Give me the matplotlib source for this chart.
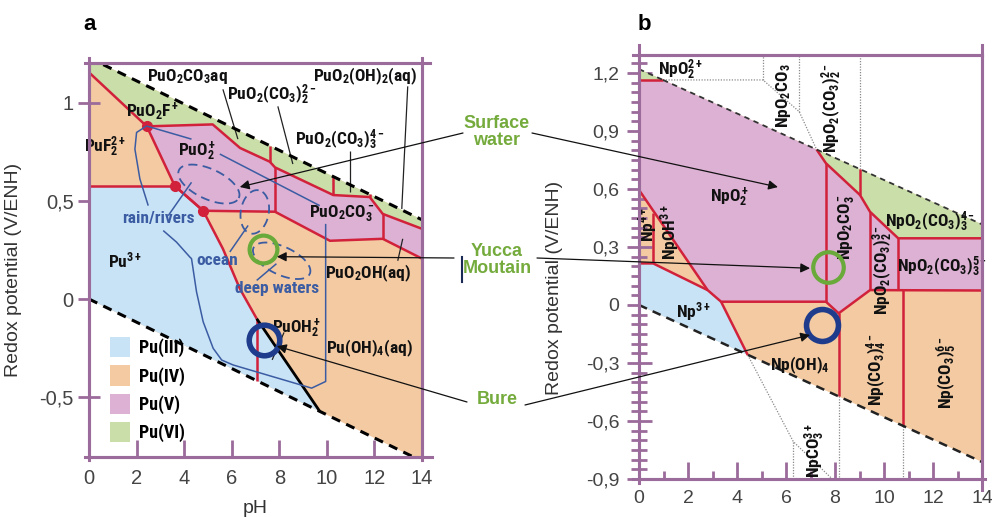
import numpy as np
import matplotlib
matplotlib.use('Agg')
import matplotlib.pyplot as plt
import matplotlib.font_manager as fm
from matplotlib.patches import Patch, ConnectionPatch
from matplotlib.lines import Line2D
from matplotlib.ticker import FuncFormatter, MultipleLocator


def weight_of(f):
    w = f.weight
    return w if isinstance(w, (int, float)) else fm.weight_dict.get(w, 400)


def pick_label_font():
    # police grasse et étroite pour les noms d'espèces
    fonts = fm.fontManager.ttflist
    for nm, fs in [('Liberation Sans Narrow', 12.5), ('Roboto Condensed', 12.5),
                   ('Open Sans Condensed', 12), ('Roboto', 11), ('Liberation Sans', 10.5)]:
        if any(f.name == nm and weight_of(f) >= 600 and f.style == 'normal' for f in fonts):
            return nm, fs
    return 'DejaVu Sans', 9.5


LBL, FS = pick_label_font()
COND = fm.FontProperties(family=LBL, weight='bold')
pat = LBL + ':bold'

avail = {f.name for f in fm.fontManager.ttflist}
SANS = 'Liberation Sans' if 'Liberation Sans' in avail else 'DejaVu Sans'
plt.rcParams['font.family'] = [SANS, 'DejaVu Sans']
plt.rcParams.update({
    'mathtext.fontset': 'custom',
    'mathtext.rm': pat,
    'mathtext.it': pat,
    'mathtext.bf': pat,
    'mathtext.sf': pat,
    'mathtext.default': 'rm',
})

# couleurs
C_III, C_IV, C_V, C_VI = '#c8e3f6', '#f3caa2', '#dcb1d3', '#c9dea9'
RED = '#d1213b'
FRAME = '#9b6b9b'
WBLUE = '#3b5ca3'
GTXT = '#74ab3c'
CGREEN = '#6aaa3a'
CBLUE = '#1f3c8c'

# ---------------- Pu (panneau a) ----------------
pu_water_up = [(0, 1.23), (14, 0.404)]
pu_water_low = [(0, 0.0), (14, -0.826)]
pu_v_top = [(2.43, 0.88), (5.2, 0.89), (6.35, 0.77), (7.6, 0.70), (7.82, 0.671),
            (10.27, 0.53), (11.8, 0.52), (12.35, 0.434), (14, 0.358)]
pu_v_bot = [(3.61, 0.576), (4.8, 0.45), (7.82, 0.445), (10.13, 0.297),
            (12.35, 0.307), (14, 0.206)]
pu_f2_edge = [(0, 1.155), (2.43, 0.88), (3.61, 0.576), (4.8, 0.45)]
pu_iii_top = [(0, 0.576), (3.61, 0.576)]
pu_iii_iv = [(4.8, 0.45), (5.63, 0.256), (6.34, 0.053), (7.05, -0.1)]
pu_oh_black = [(7.05, -0.1), (9.7, -0.572)]
pu_red_vert = [[(7.05, -0.1), (7.05, -0.417)],
               [(7.6, 0.70), (7.6, 0.78)],
               [(10.27, 0.53), (10.27, 0.625)],
               [(11.8, 0.52), (11.8, 0.535)],
               [(7.82, 0.671), (7.82, 0.445)],
               [(12.35, 0.434), (12.35, 0.307)]]
pu_dots = [(2.43, 0.88), (3.61, 0.576), (4.8, 0.45)]

# domaines des eaux naturelles
pu_nat = [[(2.42, 0.882), (2.0, 0.849), (1.93, 0.764), (2.14, 0.612), (2.49, 0.476)],
          [(3.12, 0.349), (3.68, 0.29), (4.24, 0.214), (4.31, 0.206), (4.52, 0.037),
           (4.8, -0.116), (5.22, -0.251), (5.58, -0.311), (6.06, -0.336),
           (9.36, -0.454), (9.95, -0.42), (9.95, 0.256), (9.95, 0.383)],
          [(2.42, 0.882), (4.31, 0.815)],
          [(5.5, 0.739), (9.7, 0.476)],
          [(4.31, 0.595), (3.33, 0.425)],
          [(6.69, 0.375), (5.92, 0.24)],
          [(7.88, 0.18), (7.05, 0.095)]]
# ellipses : centre (pH, E), demi-axes (px), angle
pu_ell = [((5.04, 0.586), 33, 15, -25),
          ((6.97, 0.444), 22, 14, 80),
          ((8.1, 0.195), 31, 14, -25)]
pu_leaders = [[(5.63, 1.069), (6.26, 0.815)],
              [(7.94, 0.982), (8.57, 0.688)],
              [(13.4, 1.084), (13.15, 0.459)],
              [(10.97, 0.754), (10.97, 0.546)],
              [(12.98, 0.195), (13.19, 0.307)],
              [(7.7, -0.31), (8.2, -0.17)]]
pu_labels = [(r'$PuO_2CO_3aq$', 4.12, 1.134),
             (r'$PuO_2(CO_3)_2^{2-}$', 7.69, 1.043),
             (r'$PuO_2(OH)_2(aq)$', 11.6, 1.134),
             (r'$PuO_2(CO_3)_3^{4-}$', 10.55, 0.814),
             (r'$PuO_2F^+$', 2.69, 0.957),
             (r'$PuF_2^{2+}$', 0.67, 0.774),
             (r'$PuO_2^+$', 4.54, 0.754),
             (r'$PuO_2CO_3^-$', 10.63, 0.434),
             (r'$PuO_2OH(aq)$', 11.72, 0.129),
             (r'$Pu^{3+}$', 1.51, 0.195),
             (r'$PuOH_2^+$', 8.74, -0.15),
             (r'$Pu(OH)_4(aq)$', 11.8, -0.25)]
pu_water_labels = [('rain/rivers', 2.9, 0.41), ('ocean', 5.38, 0.195), ('deep waters', 7.9, 0.053)]
pu_yucca = (7.31, 0.256)
pu_bure = (7.35, -0.21)
legend_names = ['Pu(III)', 'Pu(IV)', 'Pu(V)', 'Pu(VI)']

# ---------------- Np (panneau b) ----------------
np_water_up = [(0, 1.22), (14, 0.417)]
np_water_low = [(0, 0.0), (14, -0.812)]
np_vi_corner = [(0, 1.164), (0.98, 1.164)]
np_v_top = [(7.25, 0.804), (7.63, 0.733), (9.02, 0.569), (9.43, 0.482),
            (10.58, 0.345), (14, 0.345)]
np_v_bot = [(0, 0.595), (2.8, 0.077), (3.35, 0.017), (7.63, 0.017), (8.15, -0.043),
            (9.43, 0.077), (14, 0.075)]
np_iii_top = [(0, 0.215), (0.58, 0.215), (2.8, 0.077)]
np_iii_iv = [(3.35, 0.017), (4.44, -0.259)]
np_red_vert = [[(7.63, 0.733), (7.63, 0.017)],
               [(9.02, 0.569), (9.02, 0.703)],
               [(9.43, 0.482), (9.43, 0.077)],
               [(10.58, 0.345), (10.58, 0.077)],
               [(8.15, -0.043), (8.15, -0.473)],
               [(10.78, 0.075), (10.78, -0.626)],
               [(0.58, 0.475), (0.58, 0.215)]]
np_dotted = [[(0.98, 1.164), (5.06, 1.164), (6.54, 1.0), (7.25, 0.804)],
             [(5.06, 1.164), (5.06, 1.3)],
             [(6.54, 1.0), (6.54, 1.3)],
             [(9.02, 0.703), (9.02, 1.3)],
             [(4.44, -0.259), (6.3, -0.707), (7.93, -0.905)],
             [(6.3, -0.707), (6.3, -0.9)],
             [(8.15, -0.473), (8.15, -0.9)],
             [(10.78, -0.626), (10.78, -0.9)]]
np_labels = [(r'$NpO_2^{2+}$', 1.71, 1.216, 0),
             (r'$NpO_2CO_3$', 5.88, 1.081, 90),
             (r'$NpO_2(CO_3)_2^{2-}$', 7.88, 1.019, 90),
             (r'$NpO_2^+$', 3.71, 0.558, 0),
             (r'$NpO_2CO_3^-$', 8.49, 0.403, 90),
             (r'$NpO_2(CO_3)_2^{3-}$', 9.95, 0.18, 90),
             (r'$NpO_2(CO_3)_3^{4-}$', 11.88, 0.429, 0),
             (r'$NpO_2(CO_3)_3^{5-}$', 12.37, 0.196, 0),
             (r'$Np^{4+}$', 0.33, 0.414, 90),
             (r'$NpOH^{3+}$', 1.25, 0.377, 90),
             (r'$Np^{3+}$', 2.2, -0.036, 0),
             (r'$Np(OH)_4$', 6.57, -0.311, 0),
             (r'$Np(CO_3)_4^{4-}$', 9.71, -0.336, 90),
             (r'$Np(CO_3)_5^{6-}$', 12.57, -0.352, 90),
             (r'$NpCO_3^{3+}$', 7.18, -0.75, 90)]
np_yucca = (7.71, 0.196)
np_bure = (7.47, -0.104)

# sites (texte central + flèches)
sites = [('Surface\nwater', 132, (463, 133), (6.34, 0.571), (532, 133), (5.67, 0.61)),
         ('Yucca\nMoutain', 260, (454, 258), (7.9, 0.216), (537, 258), (6.98, 0.19)),
         ('Bure', 400, (467, 402), (7.9, -0.24), (525, 405), (6.98, -0.155))]

W, H = 992, 517
fig = plt.figure(figsize=(W / 100, H / 100), dpi=100)
axa = fig.add_axes([89 / W, (H - 457) / H, 333 / W, 394 / H])
axb = fig.add_axes([639 / W, (H - 479) / H, 343 / W, 424 / H])


def poly(ax, pts, color, z=1):
    xs, ys = zip(*pts)
    ax.fill(xs, ys, color=color, lw=0, zorder=z)


def line(ax, pts, **kw):
    xs, ys = zip(*pts)
    ax.plot(xs, ys, solid_capstyle='butt', **kw)


def comma(v, pos):
    if abs(v) < 1e-9:
        return '0'
    s = f'{v:.1f}'.rstrip('0').rstrip('.')
    return s.replace('.', ',')


# ---- panneau a ----
axa.set_xlim(0, 14)
axa.set_ylim(-0.805, 1.203)
poly(axa, pu_water_up + pu_water_low[::-1], C_IV)
poly(axa, pu_water_up + pu_v_top[::-1] + [pu_f2_edge[0]], C_VI, 2)
poly(axa, pu_v_top + pu_v_bot[::-1], C_V, 2)
poly(axa, pu_iii_top + pu_iii_iv + [pu_oh_black[1], pu_water_low[0]], C_III, 2)

line(axa, pu_water_up, color='black', lw=2.2, ls=(0, (3, 2.2)), zorder=6)
line(axa, pu_water_low, color='black', lw=2.2, ls=(0, (3, 2.2)), zorder=6)
for seg in [pu_v_top, pu_v_bot, pu_f2_edge, pu_iii_top, pu_iii_iv] + pu_red_vert:
    line(axa, seg, color=RED, lw=1.8, zorder=4)
line(axa, pu_oh_black, color='black', lw=2, zorder=4)
dx, dy = zip(*pu_dots)
axa.plot(dx, dy, 'o', color=RED, ms=7, zorder=5)

for seg in pu_nat:
    line(axa, seg, color=WBLUE, lw=1.1, zorder=5)
sx = 333 / 14
sy = 394 / (1.203 + 0.805)
t = np.linspace(0, 2 * np.pi, 120)
for (cx, cy), a, b, ang in pu_ell:
    th = np.deg2rad(ang)
    ex = a * np.cos(t) * np.cos(th) - b * np.sin(t) * np.sin(th)
    ey = a * np.cos(t) * np.sin(th) + b * np.sin(t) * np.cos(th)
    axa.plot(cx + ex / sx, cy + ey / sy, color=WBLUE, lw=1.3, ls=(0, (5, 3)), zorder=5)
for seg in pu_leaders:
    line(axa, seg, color='#222222', lw=0.9, zorder=5)

for txt, x, y in pu_labels:
    axa.text(x, y, txt, fontsize=FS, ha='center', va='center', color='#111111', zorder=7)
for txt, x, y in pu_water_labels:
    axa.text(x, y, txt, fontproperties=COND, fontsize=FS, ha='center', va='center',
             color=WBLUE, zorder=7)

axa.plot(*pu_yucca, 'o', ms=20, mfc='none', mec=CGREEN, mew=3, zorder=8)
axa.plot(*pu_bure, 'o', ms=22, mfc='none', mec=CBLUE, mew=4, zorder=8)

handles = [Patch(facecolor=c, edgecolor='none') for c in (C_III, C_IV, C_V, C_VI)]
lp = COND.copy()
lp.set_size(FS + 0.5)
axa.legend(handles, legend_names, loc='upper left', bbox_to_anchor=(0.062, 0.305),
           frameon=False, handlelength=1.15, handleheight=1.35, handletextpad=0.45,
           labelspacing=0.45, borderpad=0, borderaxespad=0, prop=lp)

axa.set_xticks(range(0, 15, 2))
axa.set_yticks([-0.5, 0, 0.5, 1])
axa.yaxis.set_major_formatter(FuncFormatter(comma))
axa.tick_params(axis='x', direction='in', length=12, width=2, color=FRAME,
                labelsize=14.5, labelcolor='#444444', pad=9)
axa.tick_params(axis='y', direction='inout', length=16, width=2, color=FRAME,
                labelsize=14.5, labelcolor='#444444', pad=3)
axa.set_ylabel('Redox potential (V/ENH)', fontsize=14, color='#333333')
axa.yaxis.set_label_coords(-0.2, 0.475)
axa.set_xlabel('pH', fontsize=14, color='#333333')
axa.xaxis.set_label_coords(0.5, -0.11)

for ax in (axa, axb):
    for sp in ax.spines.values():
        sp.set_color(FRAME)
        sp.set_linewidth(2.2)
        sp.set_zorder(9)

ext = dict(color=FRAME, lw=2.2, transform=axa.transAxes, clip_on=False, zorder=9)
axa.plot([-0.012, 1.025], [1, 1], **ext)
axa.plot([-0.012, 1.03], [0, 0], **ext)
axa.plot([0, 0], [-0.008, 1.013], **ext)
axa.plot([1, 1], [-0.008, 1.013], **ext)

# ---- panneau b ----
axb.set_xlim(0, 14)
axb.set_ylim(-0.9, 1.293)
poly(axb, np_water_up + np_water_low[::-1], C_IV)
poly(axb, np_vi_corner + np_v_top + np_v_bot[::-1], C_V, 2)
poly(axb, [np_water_up[1]] + np_v_top[::-1], C_VI, 2)
poly(axb, [np_water_up[0]] + np_vi_corner[::-1], C_VI, 2)
poly(axb, np_iii_top + np_iii_iv + [np_water_low[0]], C_III, 2)

line(axb, [np_vi_corner[1], np_water_up[1]], color='#333333', lw=1.3, ls=(0, (3, 2.5)), zorder=6)
line(axb, [np_water_up[0], np_vi_corner[1]], color='#333333', lw=1.3, ls=(0, (3, 2.5)), zorder=6)
line(axb, np_water_low, color='#222222', lw=1.8, ls=(0, (3.5, 2.5)), zorder=6)
for seg in [np_vi_corner, np_v_top, np_v_bot, np_iii_top, np_iii_iv] + np_red_vert:
    line(axb, seg, color=RED, lw=1.8, zorder=4)
for seg in np_dotted:
    line(axb, seg, color='#8a8a8a', lw=0.9, ls=(0, (1, 1.2)), zorder=3)

for txt, x, y, rot in np_labels:
    axb.text(x, y, txt, fontsize=FS, ha='center', va='center', rotation=rot,
             color='#111111', zorder=7)

axb.plot(*np_yucca, 'o', ms=22, mfc='none', mec=CGREEN, mew=3, zorder=8)
axb.plot(*np_bure, 'o', ms=23, mfc='none', mec=CBLUE, mew=4, zorder=8)

axb.set_xticks(range(0, 15, 2))
axb.xaxis.set_minor_locator(MultipleLocator(1))
axb.set_yticks([-0.9, -0.6, -0.3, 0, 0.3, 0.6, 0.9, 1.2])
axb.yaxis.set_minor_locator(MultipleLocator(0.05))
axb.yaxis.set_major_formatter(FuncFormatter(comma))
axb.tick_params(axis='x', which='major', direction='in', length=12, width=2, color=FRAME,
                labelsize=14, labelcolor='#444444', pad=8)
axb.tick_params(axis='x', which='minor', direction='in', length=6, width=2, color=FRAME)
axb.tick_params(axis='y', which='major', direction='inout', length=18, width=2, color=FRAME,
                labelsize=14, labelcolor='#444444', pad=5)
axb.tick_params(axis='y', which='minor', direction='inout', length=11, width=2, color=FRAME)
axb.set_ylabel('Redox potential (V/ENH)', fontsize=14, color='#333333')
axb.yaxis.set_label_coords(-0.222, 0.45)

ext = dict(color=FRAME, lw=2.2, transform=axb.transAxes, clip_on=False, zorder=9)
axb.plot([-0.018, 1.0], [1, 1], **ext)
axb.plot([-0.018, 1.01], [0, 0], **ext)
axb.plot([0, 0], [-0.01, 1.024], **ext)
axb.plot([1, 1], [-0.025, 1.024], **ext)

# ---- étiquettes centrales et flèches ----
for txt, yc, pA, dA, pB, dB in sites:
    fig.text(497 / W, 1 - yc / H, txt, ha='center', va='center', fontsize=13,
             weight='bold', color=GTXT, linespacing=1.0)
    for p, d, ax in ((pA, dA, axa), (pB, dB, axb)):
        con = ConnectionPatch(xyA=(p[0] / W, 1 - p[1] / H), coordsA='figure fraction',
                              xyB=d, coordsB=ax.transData, arrowstyle='-|>',
                              mutation_scale=14, color='#111111', lw=0.9,
                              shrinkA=0, shrinkB=0, zorder=10)
        fig.add_artist(con)

fig.add_artist(Line2D([462 / W, 462 / W], [1 - 257 / H, 1 - 282 / H], color='#1a2a55',
                      lw=1.5, transform=fig.transFigure))

fig.text(90 / W, 1 - 24 / H, 'a', fontsize=16, weight='bold', ha='center', va='center')
fig.text(644 / W, 1 - 24 / H, 'b', fontsize=16, weight='bold', ha='center', va='center')

fig.savefig('out.png', dpi=100, facecolor='white')
